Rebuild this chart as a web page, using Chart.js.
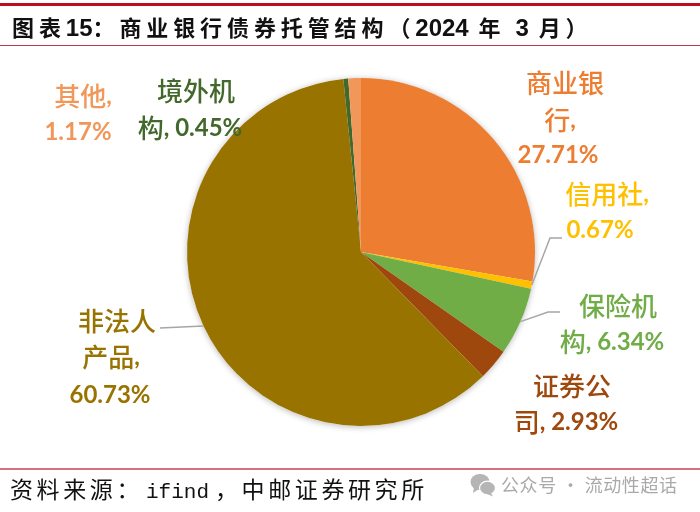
<!DOCTYPE html>
<html lang="zh-CN">
<head>
<meta charset="UTF-8">
<title>图表15</title>
<script src="https://cdn.jsdelivr.net/npm/chart.js"></script>
<style>
    html, body { margin: 0; padding: 0; background: #fff; }
    #page { position: relative; width: 700px; height: 512px; overflow: hidden; }
    #page canvas { position: absolute; left: 0; top: 0; }
    .rule { position: absolute; left: 0; width: 700px; }
    .txt { position: absolute; white-space: pre; font-family: "Noto Sans CJK SC", sans-serif; }
    #title { left: 12px; top: 10px; font-size: 22px; line-height: 32px; font-weight: 700; color: #111; letter-spacing: 4.9px; }
    #title span { font-family: "Liberation Sans"; font-size: 24px; letter-spacing: 0; }
    #source { left: 10px; top: 472px; font-size: 23px; line-height: 32px; font-weight: 400; color: #111; letter-spacing: 3.6px; }
    #source span { font-family: "Liberation Mono"; font-size: 21px; letter-spacing: 0; padding: 0 6px 0 3px; }
    #mark { left: 501px; top: 470px; font-size: 18px; line-height: 28px; color: #a9a9a9; letter-spacing: 0.6px; }
    #wechat { position: absolute; left: 470px; top: 473px; }
</style>
</head>
<body>
<div id="page">
    <canvas id="pie" width="700" height="512"></canvas>
    <div class="rule" style="top:3px;height:3px;background:#c00d1e"></div>
    <div class="rule" style="top:45px;height:1px;background:#c0394f"></div>
    <div class="rule" style="top:468px;height:2px;background:#d8707f"></div>
    <div class="txt" id="title">图表<span>15</span>：商业银行债券托管结构（<span>2024</span> 年 <span>3</span> 月）</div>
    <div class="txt" id="source">资料来源：<span>ifind</span>，中邮证券研究所</div>
    <svg id="wechat" width="26" height="24" viewBox="0 0 26 24">
        <ellipse cx="10" cy="9" rx="9.5" ry="8" fill="#b5b5b5"/>
        <path d="M4 14 L3 20 L9 16 Z" fill="#b5b5b5"/>
        <ellipse cx="17.5" cy="15" rx="8" ry="6.8" fill="#b5b5b5" stroke="#fff" stroke-width="1.2"/>
        <path d="M21 20 L23 23.5 L17 21 Z" fill="#b5b5b5"/>
    </svg>
    <div class="txt" id="mark">公众号 · 流动性超话</div>
</div>

<script>
    // 托管结构 (%)
    const categories = ['商业银行', '信用社', '保险机构', '证券公司', '非法人产品', '境外机构', '其他'];
    const shares = [27.71, 0.67, 6.34, 2.93, 60.73, 0.45, 1.17];
    const sliceColors = ['#ED7D31', '#FFC000', '#70AD47', '#9E480E', '#997300', '#43682B', '#F1975A'];

    // 标签文字, {v} 换成数值
    const labelLines = [
        ['商业银', '行,', '{v}'],
        ['信用社,', '{v}'],
        ['保险机', '构, {v}'],
        ['证券公', '司, {v}'],
        ['非法人', '产品,', '{v}'],
        ['境外机', '构, {v}'],
        ['其他,', '{v}']
    ];

    // 每行的中心点 [x, y]
    const labelSpots = [
        [[565, 83], [560, 120], [558, 155]],
        [[607, 194], [600, 230]],
        [[618, 306], [612, 342]],
        [[572, 386], [566, 422]],
        [[117, 321], [111, 357], [110, 395]],
        [[196, 91], [190, 128]],
        [[83, 96], [78, 132]]
    ];

    // 引线: 从扇区外缘出发, 经过这些点
    const leaders = {
        1: [[550, 238], [562, 238]],
        2: [[548, 312], [560, 312]],
        4: [[160, 328]]
    };

    function drawRuns(ctx, text, cx, cy) {
        const runs = text.match(/[\u4e00-\u9fff]+|[^\u4e00-\u9fff]+/g);
        const fontOf = r => /[\u4e00-\u9fff]/.test(r)
            ? '500 26px "Noto Sans CJK SC"'
            : 'bold 24px Lato';
        let width = 0;
        runs.forEach(r => { ctx.font = fontOf(r); width += ctx.measureText(r).width; });
        let x = cx - width / 2;
        runs.forEach(r => {
            ctx.font = fontOf(r);
            ctx.fillText(r, x, cy);
            x += ctx.measureText(r).width;
        });
    }

    const pieDecor = {
        id: 'pieDecor',
        // 饼图底下的淡阴影
        beforeDatasetsDraw(chart) {
            const arc = chart.getDatasetMeta(0).data[0];
            const ctx = chart.ctx;
            ctx.save();
            ctx.shadowColor = 'rgba(0,0,0,0.28)';
            ctx.shadowBlur = 6;
            ctx.shadowOffsetY = 1;
            ctx.fillStyle = '#fff';
            ctx.beginPath();
            ctx.arc(arc.x, arc.y, arc.outerRadius, 0, Math.PI * 2);
            ctx.fill();
            ctx.restore();
        },
        afterDatasetsDraw(chart) {
            const ctx = chart.ctx;
            const arcs = chart.getDatasetMeta(0).data;
            ctx.save();
            ctx.strokeStyle = '#a6a6a6';
            ctx.lineWidth = 1.5;
            Object.keys(leaders).forEach(i => {
                const arc = arcs[i];
                const mid = (arc.startAngle + arc.endAngle) / 2;
                ctx.beginPath();
                ctx.moveTo(arc.x + Math.cos(mid) * arc.outerRadius, arc.y + Math.sin(mid) * arc.outerRadius);
                leaders[i].forEach(p => ctx.lineTo(p[0], p[1]));
                ctx.stroke();
            });
            ctx.textBaseline = 'middle';
            labelLines.forEach((lines, i) => {
                ctx.fillStyle = sliceColors[i];
                lines.forEach((line, j) => {
                    const text = line.replace('{v}', shares[i].toFixed(2) + '%');
                    drawRuns(ctx, text, labelSpots[i][j][0], labelSpots[i][j][1]);
                });
            });
            ctx.restore();
        }
    };

    new Chart(document.getElementById('pie').getContext('2d'), {
        type: 'pie',
        data: {
            labels: categories,
            datasets: [{
                data: shares,
                backgroundColor: sliceColors,
                borderWidth: 0
            }]
        },
        options: {
            responsive: false,
            animation: false,
            layout: { padding: { left: 187, right: 165, top: 78, bottom: 86 } },
            plugins: {
                legend: { display: false },
                tooltip: { enabled: false }
            }
        },
        plugins: [pieDecor]
    });
</script>
</body>
</html>
